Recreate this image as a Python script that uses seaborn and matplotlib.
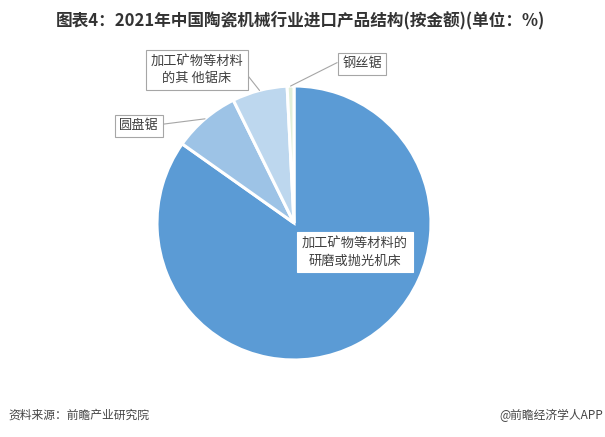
import numpy as np
import matplotlib
matplotlib.use("Agg")
import matplotlib.pyplot as plt
import seaborn as sns

sns.set_theme(style="white")
plt.rcParams['font.family'] = ['Noto Sans CJK SC', 'DejaVu Sans']

categories = ["加工矿物等材料的\n研磨或抛光机床", "圆盘锯", "加工矿物等材料\n的其 他锯床", "钢丝锯"]
values = [84.8, 7.9, 6.5, 0.8]
colors = ["#5B9BD5", "#9DC3E6", "#BDD7EE", "#E2EFD9"]

title = "图表4：2021年中国陶瓷机械行业进口产品结构(按金额)(单位：%)"
source = "资料来源：前瞻产业研究院"
credit = "@前瞻经济学人APP"

W, H = 605, 437
fig = plt.figure(figsize=(W / 100, H / 100), dpi=100)
cx, cy, r = 294, 223, 137
ax = fig.add_axes([(cx - r) / W, (H - cy - r) / H, 2 * r / W, 2 * r / H])

wedges, _ = ax.pie(values, colors=colors, startangle=90, counterclock=False,
                   radius=1.0, wedgeprops=dict(edgecolor="white", linewidth=2.2))
ax.set_xlim(-1, 1)
ax.set_ylim(-1, 1)
ax.set_aspect("equal")
ax.axis("off")

def px(x, y):
    return ((x - cx) / r, (cy - y) / r)

box = dict(boxstyle="square,pad=0.35", fc="white", ec="#A6A6A6", lw=0.8)
line = dict(arrowstyle="-", color="#A6A6A6", lw=0.8, shrinkA=0, shrinkB=0)

def mid_point(w, rad=1.0):
    a = np.deg2rad((w.theta1 + w.theta2) / 2)
    return (rad * np.cos(a), rad * np.sin(a))

# big slice label inside
ax.text(*px(355, 252), categories[0], ha="center", va="center", fontsize=9.5,
        color="#404040", linespacing=1.5,
        bbox=dict(boxstyle="square,pad=0.35", fc="white", ec="white", lw=0.8))

# 圆盘锯
ax.annotate(categories[1], xy=mid_point(wedges[1]), xytext=px(139, 126),
            ha="center", va="center", fontsize=9.5, color="#404040",
            bbox=box, arrowprops=dict(line, relpos=(1, 0.6)))
# 其他锯床
ax.annotate(categories[2], xy=mid_point(wedges[2]), xytext=px(197, 70),
            ha="center", va="center", fontsize=9.5, color="#404040", linespacing=1.4,
            bbox=box, arrowprops=dict(line, relpos=(1, 0.5)))
# 钢丝锯
ax.annotate(categories[3], xy=mid_point(wedges[3]), xytext=px(362, 64),
            ha="center", va="center", fontsize=9.5, color="#404040",
            bbox=box, arrowprops=dict(line, relpos=(0, 0.8)))

fig.text(300 / W, 1 - 21 / H, title, ha="center", va="center", fontsize=12,
         fontweight="bold", color="#333333")
fig.text(8 / W, 1 - 415 / H, source, ha="left", va="center", fontsize=8.5, color="#444444")
fig.text(603 / W, 1 - 415 / H, credit, ha="right", va="center", fontsize=8.5, color="#444444")

fig.savefig("out.png", dpi=100, facecolor="white")
